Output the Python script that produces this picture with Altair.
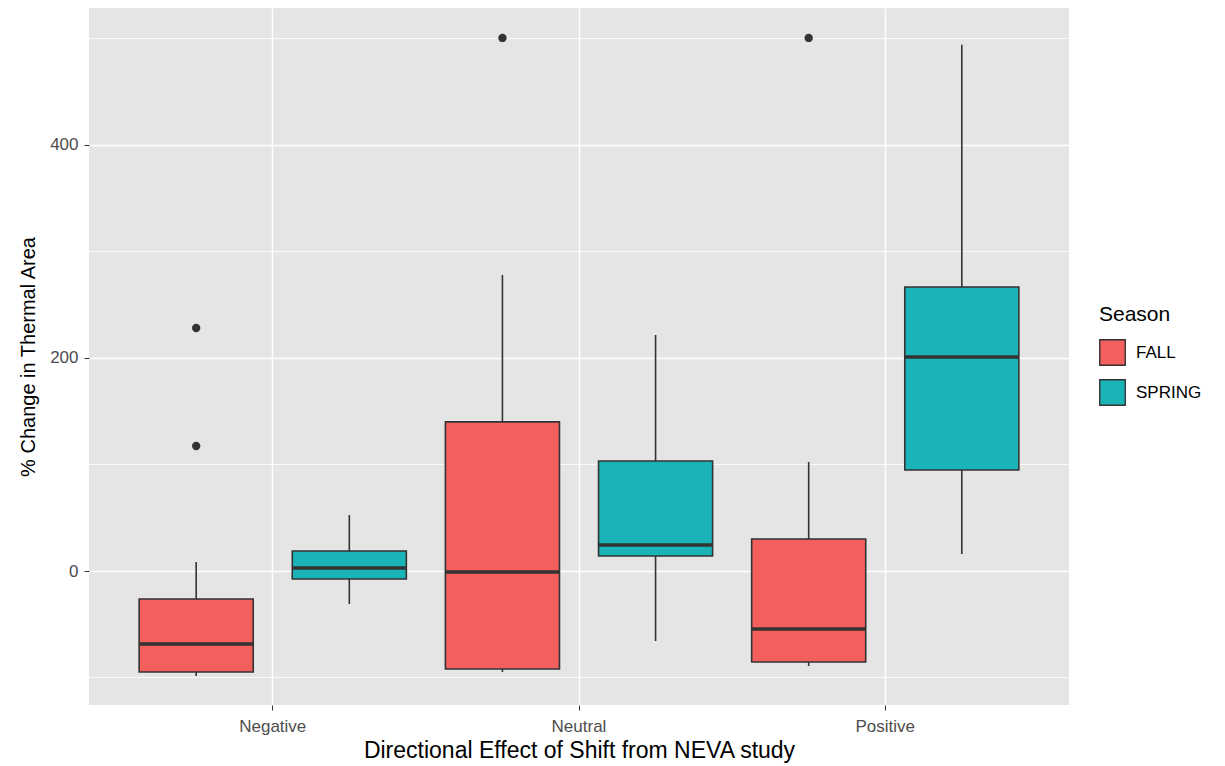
import altair as alt
import pandas as pd

categories = ["Negative", "Negative", "Neutral", "Neutral", "Positive", "Positive"]
seasons = ["FALL", "SPRING", "FALL", "SPRING", "FALL", "SPRING"]
lower = [-98.6, -31.0, -94.8, -65.7, -89.2, 16.0]
q1 = [-94.8, -7.5, -92.0, 14.1, -85.4, 94.8]
median = [-68.5, 2.8, -0.9, 24.4, -54.5, 201.0]
q3 = [-26.3, 18.8, 140.0, 103.3, 30.0, 266.7]
upper = [8.5, 52.6, 278.0, 221.6, 102.3, 494.0]

out_cat = ["Negative", "Negative", "Neutral", "Positive"]
out_season = ["FALL", "FALL", "FALL", "FALL"]
out_val = [117.4, 228.2, 500.5, 500.5]

minor_grid = [-100, 100, 300, 500]
major_ticks = [0, 200, 400]

df = pd.DataFrame({"cat": categories, "Season": seasons, "lower": lower, "q1": q1,
                   "median": median, "q3": q3, "upper": upper})
dfo = pd.DataFrame({"cat": out_cat, "Season": out_season, "val": out_val})
dfg = pd.DataFrame({"g": minor_grid})

ydom = [-125.8, 528.6]
yscale = alt.Scale(domain=ydom, nice=False, zero=False)
xscale = alt.Scale(domain=["Negative", "Neutral", "Positive"], paddingInner=0, paddingOuter=0.1)
xoff = alt.XOffset("Season:N", scale=alt.Scale(domain=["FALL", "SPRING"], paddingInner=0.255, paddingOuter=0.1275))
color = alt.Color("Season:N", scale=alt.Scale(domain=["FALL", "SPRING"], range=["#F25F5C", "#1AB3B7"]),
                  legend=alt.Legend(title="Season", orient="none", legendX=1010, legendY=296,
                                    symbolType="square", symbolSize=650,
                                    symbolStrokeColor="#333333", symbolStrokeWidth=1.4,
                                    symbolOpacity=1, titleFontSize=21, labelFontSize=17,
                                    titleFontWeight="normal", labelColor="#000000", titleColor="#000000",
                                    rowPadding=7, titlePadding=14, labelOffset=10))

xenc = alt.X("cat:N", scale=xscale,
             axis=alt.Axis(title="Directional Effect of Shift from NEVA study", labelAngle=0,
                           bandPosition=0.5, grid=True, gridColor="white", gridWidth=1.4,
                           domain=False, tickColor="#333333", tickSize=5, labelPadding=8,
                           labelFontSize=17, labelColor="#4D4D4D", titleFontSize=23,
                           titleFontWeight="normal", titleColor="#000000", titlePadding=5))

grid = alt.Chart(dfg).mark_rule(color="white", strokeWidth=0.8).encode(
    y=alt.Y("g:Q", scale=yscale,
            axis=alt.Axis(title="% Change in Thermal Area", values=major_ticks, grid=True,
                          gridColor="white", gridWidth=1.4, domain=False, tickColor="#333333",
                          tickSize=5, labelPadding=6, labelFontSize=17, labelColor="#4D4D4D",
                          titleFontSize=20, titleFontWeight="normal", titleColor="#000000",
                          titlePadding=11))
)

base = alt.Chart(df).encode(x=xenc, xOffset=xoff)

whisk = base.mark_rule(color="#333333", strokeWidth=1.6).encode(
    y=alt.Y("lower:Q", scale=yscale), y2="upper:Q")

box = base.mark_bar(stroke="#333333", strokeWidth=1.6, opacity=1).encode(
    y=alt.Y("q1:Q", scale=yscale), y2="q3:Q", color=color)

med = base.mark_tick(color="#333333", thickness=3.5, size=114, opacity=1).encode(
    y=alt.Y("median:Q", scale=yscale))

outl = alt.Chart(dfo).mark_circle(color="#333333", size=70, opacity=1).encode(
    x=alt.X("cat:N", scale=xscale), xOffset=xoff, y=alt.Y("val:Q", scale=yscale))

chart = alt.layer(grid, whisk, box, med, outl).properties(
    width=980, height=697,
    padding={"left": 10, "top": 0, "right": 5, "bottom": 5}
).configure(font="Liberation Sans").configure_view(fill="#E5E5E5", stroke=None)

chart.save("out.html", embed_options={"renderer": "svg", "actions": False})
